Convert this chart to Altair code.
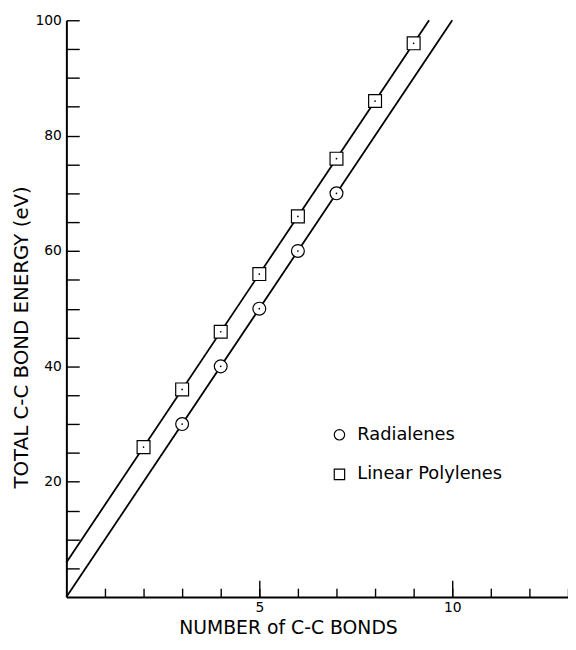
import altair as alt
import pandas as pd

# ---- data ----
series = ["Radialenes", "Linear Polylenes"]
poly_x = [2, 3, 4, 5, 6, 7, 8, 9]
poly_y = [26, 36, 46, 56, 66, 76, 86, 96]
rad_x = [3, 4, 5, 6, 7]
rad_y = [30, 40, 50, 60, 70]
poly_fit_x = [0, 9.4]
poly_fit_y = [6, 100]
rad_fit_x = [0, 10]
rad_fit_y = [0, 100]

x_label_values = [5, 10]
x_minor_ticks = [1, 2, 3, 4, 5, 6, 7, 8, 9, 10, 11, 12, 13]
y_label_values = [20, 40, 60, 80, 100]
y_ticks = [5, 10, 15, 20, 25, 30, 35, 40, 45, 50, 55, 60, 65, 70, 75, 80, 85, 90, 95, 100]

FONT = "DejaVu Sans"

pts = pd.DataFrame(
    {"series": [series[1]] * len(poly_x) + [series[0]] * len(rad_x),
     "x": poly_x + rad_x, "y": poly_y + rad_y}
)
fits = pd.DataFrame(
    {"series": [series[1]] * 2 + [series[0]] * 2,
     "x": poly_fit_x + rad_fit_x, "y": poly_fit_y + rad_fit_y}
)

xs = alt.Scale(domain=[0, 13], nice=False, zero=False)
ys = alt.Scale(domain=[0, 100], nice=False, zero=False)

common_axis = dict(grid=False, labelFont=FONT, titleFont=FONT, labelColor="black",
                   titleColor="black", tickColor="black", domainColor="black",
                   titleFontWeight="normal")

tick_axis = dict(grid=False, labels=False, domain=False, title=None,
                 tickColor="black", tickWidth=1.4)

lines = alt.Chart(fits).mark_line(color="black", strokeWidth=1.8).encode(
    x=alt.X("x:Q", scale=xs, axis=alt.Axis(
        orient="bottom", values=x_label_values, tickSize=0, labelPadding=4,
        labelFontSize=14, domainWidth=2, title="NUMBER of C-C BONDS",
        titleFontSize=19, titleX=224, titleY=31, titleAlign="center",
        titleBaseline="middle", **common_axis)),
    y=alt.Y("y:Q", scale=ys, axis=alt.Axis(
        orient="left", values=y_label_values, tickSize=0, labelPadding=5,
        labelFontSize=14, domainWidth=2, title="TOTAL C-C BOND ENERGY (eV)",
        titleFontSize=20, titleX=-45, titleY=320, titleAngle=270,
        titleAlign="center", titleBaseline="middle", **common_axis)),
    detail="series:N",
)

legend = alt.Legend(
    title=None, orient="none", legendX=267, legendY=410,
    symbolSize=110, symbolFillColor="white",
    symbolStrokeColor="black", symbolStrokeWidth=1.2, symbolOpacity=1,
    labelFont=FONT, labelFontSize=18,
    labelColor="black", labelOffset=9, rowPadding=22,
)

points = alt.Chart(pts).mark_point(
    filled=False, fill="white", strokeWidth=1.2, opacity=1, size=169
).encode(
    x=alt.X("x:Q", scale=xs, axis=alt.Axis(
        orient="bottom", values=x_minor_ticks, tickSize=9, offset=-9, **tick_axis)),
    y=alt.Y("y:Q", scale=ys, axis=alt.Axis(
        orient="left", values=y_ticks, tickSize=13, offset=-13, **tick_axis)),
    shape=alt.Shape("series:N", scale=alt.Scale(domain=series, range=["circle", "square"]),
                    legend=legend),
    color=alt.Color("series:N", scale=alt.Scale(domain=series, range=["black", "black"]),
                    legend=legend),
)

dots = alt.Chart(pts).mark_point(
    filled=True, color="black", size=3, shape="circle", opacity=1
).encode(
    x=alt.X("x:Q", scale=xs, axis=alt.Axis(
        orient="bottom", values=x_label_values, tickSize=17, offset=-17, **tick_axis)),
    y=alt.Y("y:Q", scale=ys, axis=None),
)

chart = alt.layer(lines, points, dots).resolve_axis(
    x="independent", y="independent"
).properties(
    width=507, height=583,
    autosize=alt.AutoSizeParams(type="none"),
    padding={"left": 59, "top": 9, "right": 0, "bottom": 42},
    background="white",
).configure_view(stroke=None)

chart.save("out.html", embed_options={"renderer": "svg", "actions": False})
